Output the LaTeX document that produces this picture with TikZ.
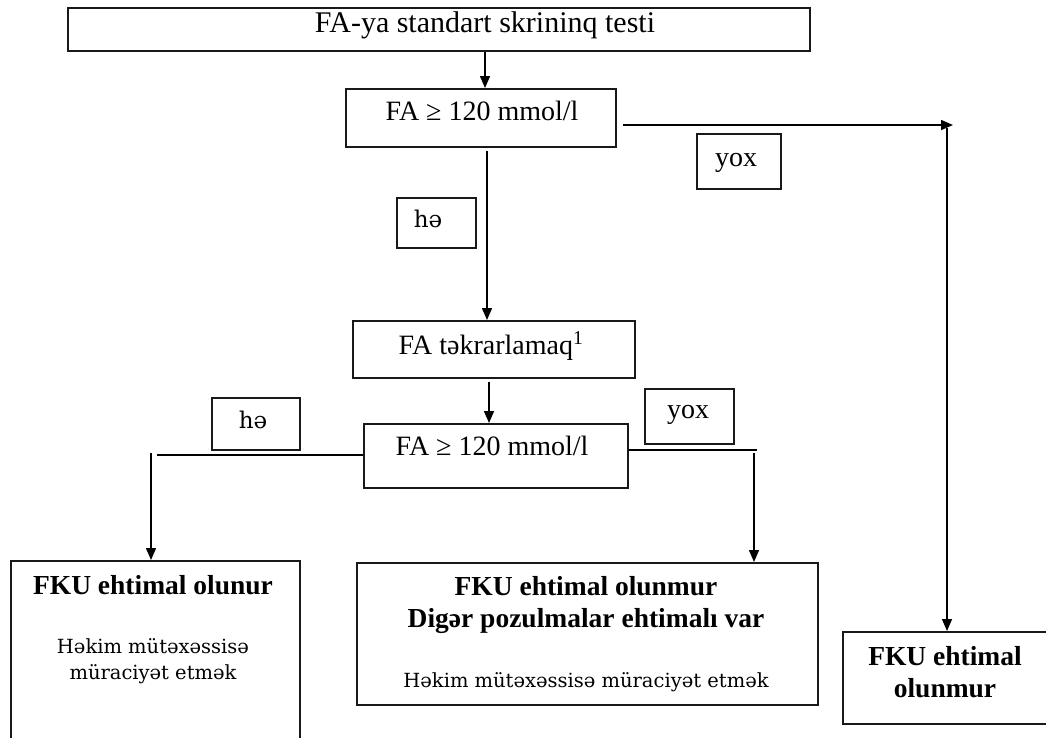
\documentclass[tikz,border=0pt]{standalone}
\usepackage{fontspec}
\setmainfont{Liberation Serif}
\newfontfamily\notefont{DejaVu Serif}
\usetikzlibrary{arrows.meta}
\begin{document}
\begin{tikzpicture}[x=1pt,y=-1pt,
  box/.style={draw=black!90,line width=1.6pt,rectangle,inner sep=0pt,anchor=north west},
  txt/.style={anchor=base,inner sep=0pt,font=\fontsize{28}{32}\selectfont},
  bold/.style={anchor=base,inner sep=0pt,font=\fontsize{27.5}{32}\selectfont\bfseries},
  note/.style={anchor=base,inner sep=0pt,font=\fontsize{19.5}{22}\selectfont\notefont},
  tag/.style={anchor=base,inner sep=0pt,font=\fontsize{23}{26}\selectfont\notefont},
  flow/.style={line width=1.5pt,black},
  arr/.style={flow,-{Triangle[length=12pt,width=10pt]}}]
\useasboundingbox (0,0) rectangle (1046,737);
\clip (0,0) rectangle (1046,737);

% boxes
\node[box,minimum width=742pt,minimum height=43pt] (top) at (67,7) {};
\node[box,minimum width=270pt,minimum height=58pt] (fa1) at (345,88) {};
\node[box,minimum width=79pt,minimum height=50pt] (yes1) at (396,197) {};
\node[box,minimum width=84pt,minimum height=55pt] (no1) at (696,133) {};
\node[box,minimum width=282pt,minimum height=57pt] (rep) at (352,320) {};
\node[box,minimum width=264pt,minimum height=64pt] (fa2) at (363,423) {};
\node[box,minimum width=89pt,minimum height=55pt] (no2) at (644,388) {};
\node[box,minimum width=88pt,minimum height=52pt] (yes2) at (211,397) {};
\node[box,minimum width=289pt,minimum height=220pt] (resL) at (10,560) {};
\node[box,minimum width=461pt,minimum height=142pt] (resM) at (356,562) {};
\node[box,minimum width=240pt,minimum height=92pt] (resR) at (842,631) {};

% texts
\node[txt,font=\fontsize{30}{33}\selectfont] (topt) at (485,32) {FA-ya standart skrininq testi};
\node[txt] (fa1t) at (482,120) {FA ≥ 120 mmol/l};
\node[tag] (yes1t) at (428,227) {hə};
\node[txt] (no1t) at (736,166) {yox};
\node[txt] (rept) at (491,354) {FA təkrarlamaq\textsuperscript{1}};
\node[txt] (fa2t) at (492,455) {FA ≥ 120 mmol/l};
\node[txt] (no2t) at (688,418) {yox};
\node[tag] (yes2t) at (253,428) {hə};

\node[bold] (lt1) at (153,594) {FKU ehtimal olunur};
\node[note] (lt2) at (153,653) {Həkim mütəxəssisə};
\node[note] (lt3) at (153,679) {müraciyət etmək};

\node[bold] (mt1) at (586,595) {FKU ehtimal olunmur};
\node[bold] (mt2) at (586,627) {Digər pozulmalar ehtimalı var};
\node[note] (mt3) at (586,687) {Həkim mütəxəssisə müraciyət etmək};

\node[bold] (rt1) at (945,665) {FKU ehtimal};
\node[bold] (rt2) at (945,697) {olunmur};

% connectors
\coordinate (c1) at (485,0);
\draw[arr] (c1 |- top.south) -- (c1 |- fa1.north);

\coordinate (r2) at (953,125);
\draw[arr] ([xshift=6pt]fa1.east |- r2) -- (r2);
\coordinate (r3) at (947,128);
\draw[arr] (r3) -- (r3 |- resR.north);

\coordinate (c2) at (487,0);
\draw[arr] ([yshift=-3pt]c2 |- fa1.south) -- (c2 |- rep.north);
\coordinate (c3) at (489,0);
\draw[arr] ([yshift=-3pt]c3 |- rep.south) -- (c3 |- fa2.north);

\coordinate (l1) at (157,455);
\draw[flow] (fa2.west |- l1) -- (l1);
\coordinate (l2) at (151,453);
\draw[arr] (l2) -- (l2 |- resL.north);

\coordinate (m1) at (757,450);
\draw[flow] (fa2.east |- m1) -- (m1);
\coordinate (m2) at (754,453);
\draw[arr] (m2) -- (m2 |- resM.north);
\end{tikzpicture}
\end{document}
